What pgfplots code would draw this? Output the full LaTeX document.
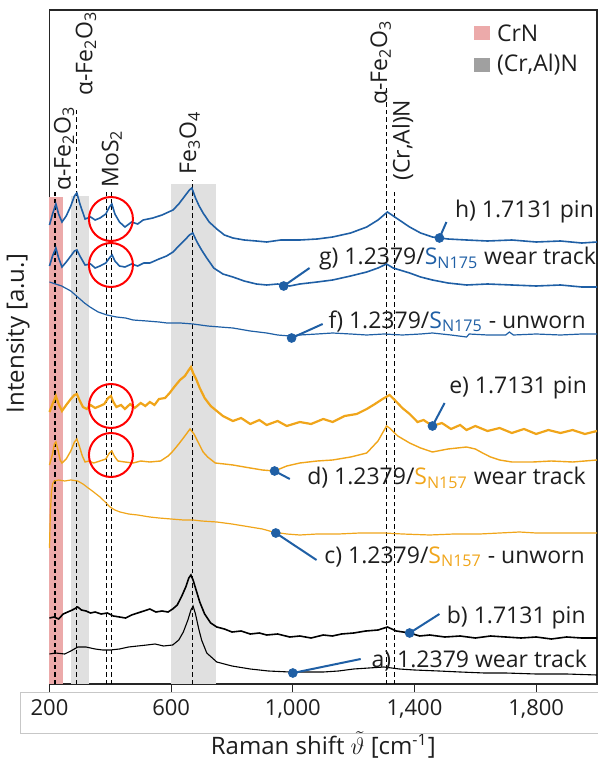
\documentclass[border=0pt]{standalone}
\usepackage{fontspec}
\setmainfont{Open Sans}
\usepackage{pgfplots}
\pgfplotsset{compat=1.18}
\usetikzlibrary{calc}
\definecolor{specblue}{RGB}{31,95,165}
\definecolor{specorange}{RGB}{240,165,26}
\definecolor{crn}{RGB}{236,170,170}
\definecolor{band}{RGB}{224,224,224}
\definecolor{legray}{RGB}{160,160,160}
\definecolor{txt}{RGB}{30,30,30}
\tikzset{dline/.style={black, line width=0.55pt, dash pattern=on 2.2pt off 1.5pt},
  peak/.style={rotate=90, anchor=west, inner sep=0pt, text=txt},
  call/.style={anchor=base east, inner sep=0pt, text=txt},
  stick/.style={specblue, line width=1pt}}
\begin{document}
\begin{tikzpicture}[font=\fontsize{11.5}{13}\selectfont]
\begin{axis}[name=ax, scale only axis, width=273.75pt, height=337pt,
  xmin=200, xmax=2000, ymin=0, ymax=674,
  xtick={200,600,1000,1400,1800}, ytick=\empty,
  xtick pos=bottom, tick align=outside, major tick length=4pt,
  /pgf/number format/1000 sep={,},
  /pgf/number format/assume math mode=true,
  x tick label style={font=\fontsize{11}{13}\selectfont, text=txt},
  axis line style={line width=0.6pt, black!85},
  tick style={black!85, line width=0.5pt},
  clip=false,
  xlabel={Raman shift $\tilde{\vartheta}$ [cm\textsuperscript{-1}]},
  ylabel={Intensity [a.u.]},
  label style={font=\fontsize{12}{14}\selectfont, text=txt},
  xlabel style={at={(axis description cs:0.5,-0.0905)}, anchor=center},
  ylabel style={at={(axis description cs:-0.0575,0.52)}, anchor=center},
]
% bands
\addplot[draw=none, fill=crn] coordinates {(200,0)(245,0)(245,487)(200,487)} -- cycle;
\addplot[draw=none, fill=band] coordinates {(271,0)(330,0)(330,488)(271,488)} -- cycle;
\addplot[draw=none, fill=band] coordinates {(600,0)(747,0)(747,500)(600,500)} -- cycle;
% reference lines
\addplot[dline] coordinates {(218,0)(218,492)};
\addplot[dline] coordinates {(290,0)(290,574)};
\addplot[dline] coordinates {(386,0)(386,492)};
\addplot[dline] coordinates {(405,0)(405,492)};
\addplot[dline] coordinates {(671,0)(671,504)};
\addplot[dline] coordinates {(1308,0)(1308,596)};
\addplot[dline] coordinates {(1335,0)(1335,492)};
% a) 1.2379 wear track
\addplot[black, line width=0.55pt] coordinates {(200,30)(220,31)(250,30)(270,33)(293,37)(320,37)(350,35)(375,34)(400,34)(430,35)(460,37)(490,38)(520,39)(547,40)(575,38)(605,39)(625,44)(640,52)(655,64)(665,74)(672,78)(680,70)(690,56)(700,44)(717,31)(750,22)(800,18)(860,15)(920,13)(990,12)(1050,12)(1100,12)(1150,13)(1200,15)(1250,16)(1300,17)(1350,15)(1400,14)(1480,13)(1550,12)(1630,11)(1700,11)(1800,10)(1900,10)(2000,9)};
% b) 1.7131 pin
\addplot[black, line width=0.8pt] coordinates {(200,66)(215,67)(230,65)(245,70)(260,72)(275,74)(293,77)(305,74)(320,73)(335,71)(350,72)(370,70)(390,71)(410,68)(430,67)(450,66)(470,69)(490,71)(510,73)(530,75)(550,72)(570,73)(590,72)(605,75)(620,79)(635,88)(648,97)(658,106)(665,109)(672,104)(682,94)(694,82)(710,70)(730,61)(750,57)(775,55)(800,52)(830,53)(860,50)(890,51)(914,49)(950,50)(990,47)(1023,48)(1060,46)(1100,49)(1130,48)(1160,50)(1200,51)(1240,53)(1280,54)(1311,57)(1340,53)(1384,51)(1417,48)(1450,49)(1500,47)(1550,48)(1600,46)(1650,48)(1700,47)(1750,46)(1800,47)(1850,45)(1900,47)(1950,46)(2000,46)};
% c) 1.2379/SN157 unworn
\addplot[specorange, line width=0.6pt] coordinates {(200,136)(201,150)(203,172)(206,190)(210,200)(215,203)(230,204)(250,203)(270,204)(293,203)(310,200)(323,197)(345,192)(366,187)(383,182)(399,177)(415,174)(432,172)(460,170)(490,169)(530,167)(560,166)(600,165)(640,164)(672,164)(700,163)(750,162)(800,160)(860,157)(900,155)(935,152)(980,150)(1023,149)(1080,150)(1150,150)(1220,151)(1302,151)(1360,150)(1450,149)(1530,150)(1614,150)(1680,151)(1745,152)(1800,151)(1900,151)(2000,151)};
% d) 1.2379/SN157 wear track
\addplot[specorange, line width=0.7pt] coordinates {(200,219)(210,230)(216,240)(221,242)(228,234)(235,224)(241,221)(255,225)(270,233)(282,242)(290,245)(298,238)(308,228)(317,222)(330,223)(345,221)(366,223)(385,225)(397,231)(405,233)(413,228)(425,223)(448,222)(475,221)(500,223)(530,222)(565,223)(590,228)(606,233)(625,240)(645,248)(662,255)(675,250)(690,241)(705,232)(720,227)(745,221)(775,220)(803,219)(860,216)(900,214)(940,213)(980,218)(1023,221)(1080,223)(1131,224)(1190,227)(1243,231)(1280,243)(1308,258)(1318,256)(1345,248)(1384,241)(1420,236)(1459,232)(1510,235)(1571,237)(1600,235)(1624,231)(1650,227)(1680,224)(1720,222)(1789,222)(1850,223)(1920,222)(2000,224)};
% e) 1.7131 pin
\addplot[specorange, line width=1.1pt] coordinates {(200,272)(210,280)(221,288)(230,280)(241,273)(255,279)(270,285)(282,289)(290,290)(300,283)(310,277)(323,275)(335,279)(350,276)(366,278)(380,280)(393,286)(402,288)(410,282)(420,277)(435,279)(448,275)(465,280)(480,276)(500,281)(515,278)(530,282)(545,279)(560,285)(580,286)(595,291)(610,297)(629,304)(645,308)(658,314)(665,317)(672,311)(682,305)(694,296)(710,286)(730,278)(750,273)(770,268)(790,265)(803,263)(830,266)(860,260)(890,264)(914,259)(950,263)(980,258)(1023,262)(1060,260)(1100,265)(1131,262)(1170,268)(1210,270)(1243,275)(1270,280)(1295,285)(1318,289)(1335,284)(1360,276)(1384,270)(1410,262)(1430,264)(1459,258)(1490,261)(1520,255)(1550,259)(1571,254)(1600,258)(1640,253)(1680,256)(1720,251)(1760,255)(1800,250)(1840,254)(1880,251)(1920,254)(1960,250)(2000,253)};
% f) 1.2379/SN175 unworn
\addplot[specblue, line width=0.6pt] coordinates {(200,402)(220,400)(240,398)(270,393)(300,385)(315,381)(333,377)(360,372)(389,369)(420,367)(450,366)(475,364)(520,363)(560,362)(586,361)(630,361)(672,360)(720,358)(760,357)(803,356)(860,353)(914,351)(950,349)(990,348)(1023,349)(1080,350)(1131,351)(1190,350)(1243,349)(1300,350)(1360,349)(1420,350)(1459,351)(1520,349)(1571,347)(1580,350)(1640,349)(1700,349)(1712,352)(1725,349)(1800,350)(1880,349)(1950,350)(2000,350)};
% g) 1.2379/SN175 wear track
\addplot[specblue, line width=0.8pt] coordinates {(200,418)(210,428)(221,436)(230,426)(241,417)(255,422)(270,428)(282,433)(290,434)(300,428)(317,419)(335,420)(350,416)(366,418)(385,421)(397,426)(406,429)(415,423)(430,418)(448,417)(470,420)(490,418)(510,421)(530,421)(560,425)(585,428)(606,432)(625,438)(645,444)(660,449)(671,451)(685,442)(700,434)(717,426)(740,416)(770,410)(803,407)(840,403)(880,400)(914,399)(950,400)(990,398)(1023,400)(1080,402)(1131,404)(1190,408)(1243,412)(1280,416)(1308,420)(1330,416)(1384,411)(1420,407)(1459,404)(1510,401)(1571,399)(1640,400)(1720,399)(1800,398)(1880,399)(1950,397)(2000,397)};
% h) 1.7131 pin
\addplot[specblue, line width=0.8pt] coordinates {(200,459)(210,470)(221,480)(230,470)(241,462)(255,468)(270,478)(282,488)(290,491)(300,480)(317,465)(335,467)(350,464)(366,466)(385,470)(397,477)(405,480)(415,470)(430,462)(448,457)(470,462)(490,460)(508,464)(540,466)(570,469)(606,474)(625,480)(645,488)(660,494)(668,496)(680,486)(692,478)(705,471)(725,462)(750,455)(775,449)(803,446)(840,444)(880,443)(914,442)(960,444)(1023,444)(1080,445)(1131,447)(1190,451)(1243,457)(1280,464)(1311,472)(1340,466)(1384,457)(1420,451)(1459,447)(1510,445)(1571,444)(1640,443)(1720,444)(1800,442)(1880,443)(1950,441)(2000,442)};
% MoS2 circles
\draw[red, line width=1pt] (axis cs:402,465) circle[radius=11pt];
\draw[red, line width=1pt] (axis cs:402,419) circle[radius=11pt];
\draw[red, line width=1pt] (axis cs:402,278) circle[radius=11pt];
\draw[red, line width=1pt] (axis cs:402,229) circle[radius=11pt];
% peak labels
\node[peak] at (axis cs:248,493) {α-Fe\textsubscript{2}O\textsubscript{3}};
\node[peak] at (axis cs:320,588) {α-Fe\textsubscript{2}O\textsubscript{3}};
\node[peak] at (axis cs:405,496) {MoS\textsubscript{2}};
\node[peak] at (axis cs:661,509) {Fe\textsubscript{3}O\textsubscript{4}};
\node[peak] at (axis cs:1289,579) {α-Fe\textsubscript{2}O\textsubscript{3}};
\node[peak] at (axis cs:1361,503) {(Cr,Al)N};
% legend
\fill[crn] (axis cs:1594,644) rectangle (axis cs:1647,658);
\node[anchor=west, inner sep=0pt, text=txt] at (axis cs:1670,651) {CrN};
\fill[legray] (axis cs:1594,612) rectangle (axis cs:1647,626);
\node[anchor=west, inner sep=0pt, text=txt] at (axis cs:1670,619) {(Cr,Al)N};
% callouts
\draw[stick] (axis cs:1482,446) -- (axis cs:1505,462);
\draw[stick] (axis cs:970,398) -- (axis cs:1055,416);
\draw[stick] (axis cs:996,346) -- (axis cs:1098,360);
\draw[stick] (axis cs:1459,258) -- (axis cs:1499,281);
\draw[stick] (axis cs:940,213) -- (axis cs:990,205);
\draw[stick] (axis cs:944,151) -- (axis cs:1078,124);
\draw[stick] (axis cs:1384,51) -- (axis cs:1482,70);
\draw[stick] (axis cs:1000,11) -- (axis cs:1223,25);
\addplot[only marks, mark=*, mark size=2.2pt, specblue] coordinates {(1482,446)(970,398)(996,346)(1459,258)(940,213)(944,151)(1384,51)(1000,11)};
\node[call] at (axis cs:1991,466) {h) 1.7131 pin};
\node[call] at (axis cs:1998,419) {g) 1.2379/\textcolor{specblue}{S\textsubscript{N175}} wear track};
\node[call] at (axis cs:1964,356) {f) 1.2379/\textcolor{specblue}{S\textsubscript{N175}} - unworn};
\node[call] at (axis cs:1968,291) {e) 1.7131 pin};
\node[call] at (axis cs:1964,199) {d) 1.2379/\textcolor{specorange}{S\textsubscript{N157}} wear track};
\node[call] at (axis cs:1961,121) {c) 1.2379/\textcolor{specorange}{S\textsubscript{N157}} - unworn};
\node[call] at (axis cs:1964,61) {b) 1.7131 pin};
\node[call] at (axis cs:1968,17) {a) 1.2379 wear track};
\end{axis}
\draw[black!22, line width=0.5pt] ($(ax.south east)+(0.5pt,-4pt)$) -- ($(ax.south west)+(-14.75pt,-4pt)$) -- ($(ax.south west)+(-14.75pt,-24.5pt)$) -- ($(ax.south east)+(0.5pt,-24.5pt)$);
\pgfresetboundingbox
\path ($(ax.south west)+(-24.75pt,-38.5pt)$) rectangle ($(ax.north east)+(0.25pt,5pt)$);
\end{tikzpicture}
\end{document}
